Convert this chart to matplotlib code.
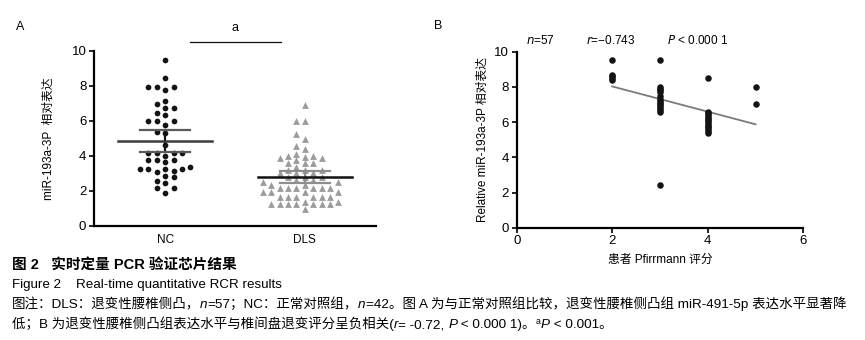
import numpy as np
import matplotlib
matplotlib.use('Agg')
import matplotlib.pyplot as plt

plt.rcParams['font.family'] = ['Liberation Sans', 'Noto Sans CJK SC', 'DejaVu Sans']

# ---- data ----
groups = ['NC', 'DLS']
nc_values = [9.47, 8.44, 7.93, 7.93, 7.93, 7.74, 7.15, 6.96, 6.75, 6.75,
             6.46, 6.32, 6.0, 6.0, 6.0, 5.78, 5.37, 5.28, 4.6, 4.14,
             4.14, 4.14, 4.14, 3.99, 3.76, 3.76, 3.76, 3.63, 3.38, 3.25,
             3.25, 3.25, 3.25, 3.16, 3.06, 2.87, 2.78, 2.57, 2.47, 2.19,
             2.19, 1.86]
dls_values = [6.89, 5.98, 5.98, 5.24, 4.95, 4.54, 4.37, 4.12, 3.95, 3.88,
              3.99, 3.99, 3.88, 3.76, 3.57, 3.57, 3.57, 3.38, 3.2, 3.2,
              3.2, 3.0, 3.0, 3.0, 2.8, 2.8, 2.8, 2.6, 2.6, 2.49,
              2.49, 2.34, 2.34, 2.15, 2.15, 2.15, 2.15, 2.15, 2.15, 1.96,
              1.96, 1.96, 1.96, 1.65, 1.65, 1.65, 1.65, 1.65, 1.65, 1.39,
              1.39, 1.25, 1.25, 1.25, 1.25, 1.25, 1.25, 1.25, 0.97]

pf_score = [2, 2, 2, 2, 2,
            3, 3, 3, 3, 3, 3, 3, 3, 3, 3, 3, 3, 3, 3, 3,
            4, 4, 4, 4, 4, 4, 4, 4, 4, 4, 4, 4, 4, 4,
            5, 5]
pf_expr = [9.5, 8.7, 8.6, 8.5, 8.4,
           9.5, 8.0, 7.9, 7.8, 7.7, 7.5, 7.3, 7.2, 7.1, 7.0, 6.9, 6.8, 6.7, 6.6, 2.4,
           8.5, 6.6, 6.5, 6.4, 6.3, 6.2, 6.1, 6.0, 5.9, 5.8, 5.7, 5.6, 5.5, 5.4,
           8.0, 7.0]
fit_slope = -0.717
fit_intercept = 9.46
fit_range = [2, 5]


def swarm_offsets(values, step, min_gap):
    values = np.asarray(values)
    seq = [0, -1, 1, -2, 2, -3, 3, -4, 4, -5, 5, -6, 6]
    placed = []
    cols = np.zeros(len(values))
    for i in np.argsort(values):
        v = values[i]
        for c in seq:
            if all(abs(v - pv) >= min_gap for pv, pc in placed if pc == c):
                break
        placed.append((v, c))
        cols[i] = c
    return cols * step


def px(x, y):
    return x / 865, 1 - y / 340


fig = plt.figure(figsize=(8.65, 3.4), dpi=100)

# ---------------- panel A ----------------
axA = fig.add_axes([94 / 865, 1 - 226 / 340, 282 / 865, 175.3 / 340])
xs_nc = 1 + swarm_offsets(nc_values, 0.06, 0.36)
xs_dls = 2 + swarm_offsets(dls_values, 0.06, 0.36)
axA.scatter(xs_nc, nc_values, s=17, marker='o', color='#141414', lw=0, zorder=3)
axA.scatter(xs_dls, dls_values, s=24, marker='^', color='#9c9c9c', lw=0, zorder=3)

styles = [('#3c3c3c', '#5a5a5a', '#111111'), ('#111111', '#8e8e8e', '#8e8e8e')]
for pos, vals, (mc, sc, vc) in zip([1, 2], [nc_values, dls_values], styles):
    m = np.mean(vals)
    ci = 1.96 * np.std(vals, ddof=1) / np.sqrt(len(vals))
    axA.plot([pos, pos], [m - ci, m + ci], color=vc, lw=1.6, zorder=4)
    axA.plot([pos - 0.18, pos + 0.18], [m + ci, m + ci], color=sc, lw=1.6, zorder=4)
    axA.plot([pos - 0.18, pos + 0.18], [m - ci, m - ci], color=sc, lw=1.6, zorder=4)
    axA.plot([pos - 0.335, pos + 0.335], [m, m], color=mc, lw=1.8, zorder=5)

axA.set_xlim(0.49, 2.51)
axA.set_ylim(0, 10)
axA.set_yticks([0, 2, 4, 6, 8, 10])
axA.set_xticks([1, 2])
axA.set_xticklabels(groups, fontsize=8.5)
axA.tick_params(axis='x', length=0, pad=6)
axA.tick_params(axis='y', length=3.5, width=1.2, labelsize=9.5, pad=2)
for s in ['top', 'right']:
    axA.spines[s].set_visible(False)
axA.spines['left'].set_linewidth(1.6)
axA.spines['bottom'].set_linewidth(1.6)
axA.set_ylabel('miR-193a-3P  相对表达', fontsize=8.5, labelpad=12)

# significance bar
axA.plot([1.18, 1.83], [10.47, 10.47], color='#111', lw=0.9, clip_on=False)
axA.text(1.5, 11.28, 'a', ha='center', va='center', fontsize=9)
fig.text(*px(20, 27), 'A', ha='center', va='center', fontsize=9)

# ---------------- panel B ----------------
axB = fig.add_axes([516.7 / 865, 1 - 227.7 / 340, 286.6 / 865, 176 / 340])
axB.scatter(pf_score, pf_expr, s=22, color='#141414', lw=0, zorder=3)
fx = np.array(fit_range)
axB.plot(fx, fit_intercept + fit_slope * fx, color='#7a7a7a', lw=1.3, zorder=2)
axB.set_xlim(0, 6)
axB.set_ylim(0, 10)
axB.set_xticks([0, 2, 4, 6])
axB.set_yticks([0, 2, 4, 6, 8, 10])
axB.tick_params(length=3.5, width=1.2, labelsize=9.5, pad=2)
for s in ['top', 'right']:
    axB.spines[s].set_visible(False)
axB.spines['left'].set_linewidth(1.6)
axB.spines['bottom'].set_linewidth(1.6)
axB.set_ylabel('Relative miR-193a-3P 相对表达', fontsize=8.5, labelpad=4)
axB.set_xlabel('患者 Pfirrmann 评分', fontsize=8.5, labelpad=5)
fig.text(*px(438, 26), 'B', ha='center', va='center', fontsize=9)
fig.text(*px(540, 40), r'$\it{n}$=57', ha='center', va='center', fontsize=8.5)
fig.text(*px(611, 40), r'$\it{r}$=−0.743', ha='center', va='center', fontsize=8.5)
fig.text(*px(698, 40), r'$\it{P}$ < 0.000 1', ha='center', va='center', fontsize=8.5)

# ---------------- caption ----------------
fig.canvas.draw()
renderer = fig.canvas.get_renderer()


def rich_line(x0, y0, pieces, size=8.5):
    x = x0
    for txt, style in pieces:
        kw = dict(fontsize=size, va='baseline', ha='left')
        yy = y0
        if style == 'i':
            kw['fontstyle'] = 'italic'
        elif style == 'b':
            kw['fontweight'] = 'bold'
        elif style == 'sup':
            kw['fontsize'] = size * 0.65
            yy = y0 + 4 / 340
        t = fig.text(x, yy, txt, **kw)
        bb = t.get_window_extent(renderer=renderer)
        x += bb.width / fig.bbox.width


rich_line(12 / 865, 1 - 269 / 340, [('图 2   实时定量 PCR 验证芯片结果', 'b')], size=10.5)
rich_line(12 / 865, 1 - 288 / 340, [('Figure 2    Real-time quantitative RCR results', '')], size=9.6)
rich_line(12 / 865, 1 - 308 / 340, [
    ('图注：DLS：退变性腰椎侧凸，', ''), ('n', 'i'), ('=57；NC：正常对照组，', ''), ('n', 'i'),
    ('=42。图 A 为与正常对照组比较，退变性腰椎侧凸组 miR-491-5p 表达水平显著降', '')], size=9.7)
rich_line(12 / 865, 1 - 328 / 340, [
    ('低；B 为退变性腰椎侧凸组表达水平与椎间盘退变评分呈负相关(', ''), ('r', 'i'),
    ('= -0.72, ', ''), ('P', 'i'), (' < 0.000 1)。', ''), ('a', 'sup'), ('P', 'i'),
    (' < 0.001。', '')], size=9.7)

fig.savefig('out.png', dpi=100)
